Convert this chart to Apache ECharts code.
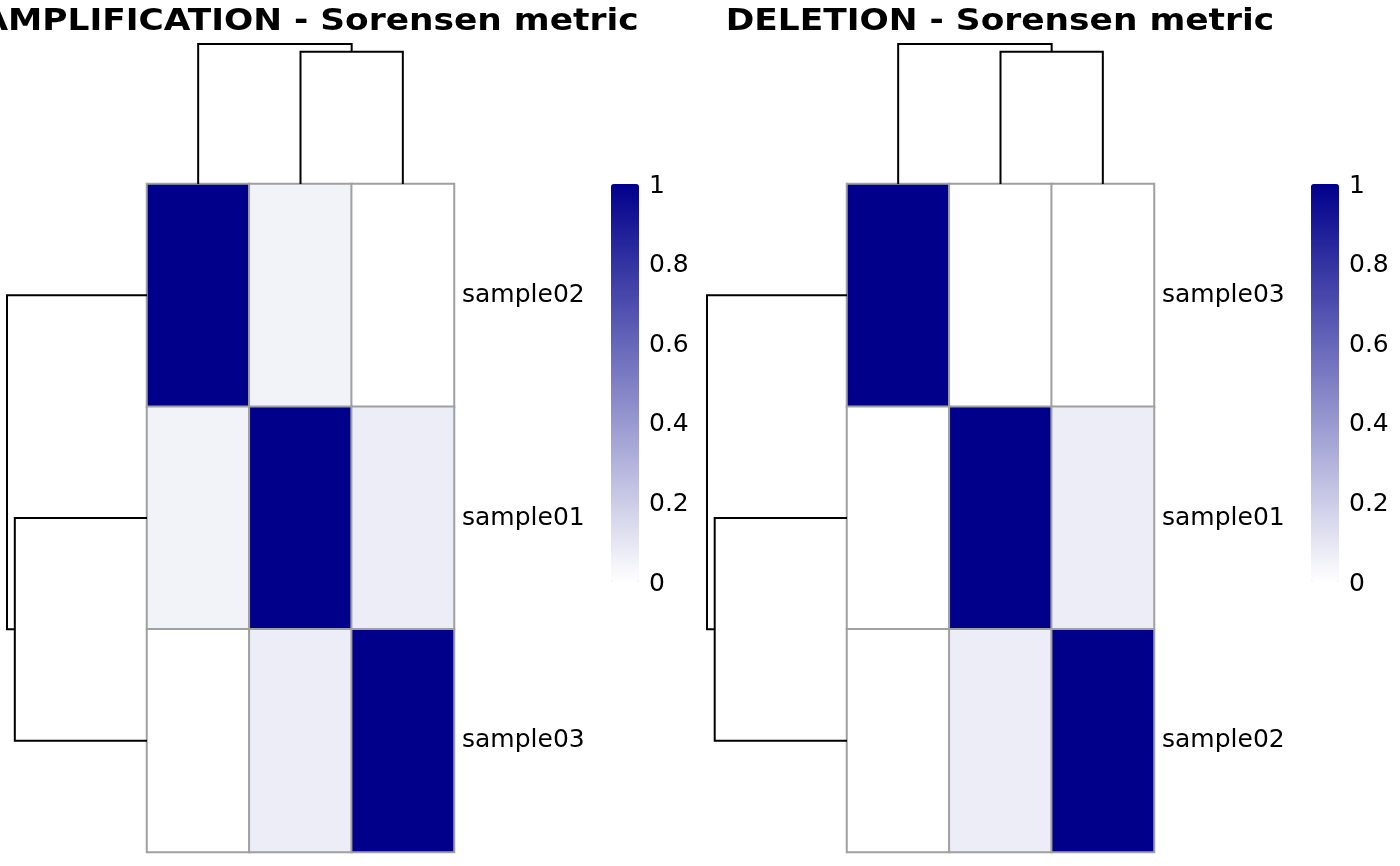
<!DOCTYPE html>
<html><head><meta charset="utf-8">
<script src="https://cdn.jsdelivr.net/npm/echarts@6/dist/echarts.min.js"></script>
<style>html,body{margin:0;padding:0;background:#fff}#c{width:1400px;height:866px}</style>
</head><body><div id="c"></div>
<script>
// ---- data ----
const ampTitle = 'AMPLIFICATION - Sorensen metric';
const delTitle = 'DELETION - Sorensen metric';
const ampSamples = ['sample02', 'sample01', 'sample03'];
const ampMatrix = [
  [1.00, 0.05, 0.00],
  [0.05, 1.00, 0.07],
  [0.00, 0.07, 1.00]
];
// hclust-style merges (negative = leaf, 1-based; positive = earlier merge)
const ampMerge = [[-2, -3], [-1, 1]];
const ampHeights = [0.93, 0.985];

const delSamples = ['sample03', 'sample01', 'sample02'];
const delMatrix = [
  [1.00, 0.00, 0.00],
  [0.00, 1.00, 0.07],
  [0.00, 0.07, 1.00]
];
const delMerge = [[-2, -3], [-1, 1]];
const delHeights = [0.945, 1.00];

const legendTicks = [0, 0.2, 0.4, 0.6, 0.8, 1];

// ---- helpers ----
function dendroSegments(merge, heights, vertical) {
  const nodes = [];
  const get = (r) => r < 0 ? { pos: -r - 1 + 0.5, h: 0 } : nodes[r - 1];
  const segs = [];
  merge.forEach((m, k) => {
    const a = get(m[0]), b = get(m[1]);
    const h = heights[k];
    const pts = [[a.pos, a.h], [a.pos, h], [b.pos, h], [b.pos, b.h]];
    segs.push({ coords: vertical ? pts : pts.map(p => [p[1], p[0]]) });
    nodes.push({ pos: (a.pos + b.pos) / 2, h: h });
  });
  return segs;
}
function heatData(m) {
  const out = [];
  m.forEach((row, r) => row.forEach((v, c) => out.push([c, r, v])));
  return out;
}

const FONT = 'DejaVu Sans';
const panels = [
  { title: ampTitle, titleX: 310, samples: ampSamples, matrix: ampMatrix, merge: ampMerge, heights: ampHeights, hmLeft: 147, legLeft: 611 },
  { title: delTitle, titleX: 1000, samples: delSamples, matrix: delMatrix, merge: delMerge, heights: delHeights, hmLeft: 847, legLeft: 1311 }
];
const HM_TOP = 184, HM_W = 307, HM_H = 668, DEN = 140;

const grid = [], xAxis = [], yAxis = [], series = [], visualMap = [], graphic = [];
const hidden = { show: false };
panels.forEach((p) => {
  const maxH = Math.max.apply(null, p.heights);
  // heatmap grid
  let gi = grid.length;
  grid.push({ left: p.hmLeft, top: HM_TOP, width: HM_W, height: HM_H });
  xAxis.push({ gridIndex: gi, type: 'category', data: p.samples, axisLabel: hidden, axisLine: hidden, axisTick: hidden, splitLine: hidden });
  yAxis.push({ gridIndex: gi, type: 'category', data: p.samples, inverse: true, position: 'right',
    axisLine: hidden, axisTick: hidden, splitLine: hidden,
    axisLabel: { fontFamily: FONT, fontSize: 25, color: '#000', margin: 8, padding: [6, 0, 0, 0] } });
  const hmIndex = series.length;
  series.push({ type: 'heatmap', xAxisIndex: gi, yAxisIndex: gi, data: heatData(p.matrix),
    itemStyle: { borderColor: '#A0A0A0', borderWidth: 2 }, emphasis: { disabled: true }, silent: true });
  visualMap.push({ type: 'continuous', seriesIndex: hmIndex, min: 0, max: 1, calculable: false, hoverLink: false,
    inRange: { color: ['#FFFFFF', '#00008B'] }, itemWidth: 28, itemHeight: 398, borderRadius: 0,
    left: p.legLeft, top: HM_TOP, padding: 0, text: ['', ''], textGap: 0 });

  // top dendrogram
  gi = grid.length;
  grid.push({ left: p.hmLeft, top: HM_TOP - DEN, width: HM_W, height: DEN });
  xAxis.push({ gridIndex: gi, type: 'value', min: 0, max: p.samples.length, show: false });
  yAxis.push({ gridIndex: gi, type: 'value', min: 0, max: maxH, show: false });
  series.push({ type: 'lines', coordinateSystem: 'cartesian2d', xAxisIndex: gi, yAxisIndex: gi, polyline: true, silent: true,
    lineStyle: { color: '#000', width: 2, opacity: 1 }, data: dendroSegments(p.merge, p.heights, true) });

  // left dendrogram
  gi = grid.length;
  grid.push({ left: p.hmLeft - DEN, top: HM_TOP, width: DEN, height: HM_H });
  xAxis.push({ gridIndex: gi, type: 'value', min: 0, max: maxH, inverse: true, show: false });
  yAxis.push({ gridIndex: gi, type: 'value', min: 0, max: p.samples.length, inverse: true, show: false });
  series.push({ type: 'lines', coordinateSystem: 'cartesian2d', xAxisIndex: gi, yAxisIndex: gi, polyline: true, silent: true,
    lineStyle: { color: '#000', width: 2, opacity: 1 }, data: dendroSegments(p.merge, p.heights, false) });

  // legend tick axis
  gi = grid.length;
  grid.push({ left: p.legLeft, top: HM_TOP + 2, width: 28, height: 398 });
  xAxis.push({ gridIndex: gi, type: 'value', show: false });
  yAxis.push({ gridIndex: gi, type: 'value', min: legendTicks[0], max: legendTicks[legendTicks.length - 1],
    interval: legendTicks[1] - legendTicks[0], position: 'right',
    axisLine: hidden, axisTick: hidden, splitLine: hidden,
    axisLabel: { fontFamily: FONT, fontSize: 25, color: '#000', margin: 10, padding: [6, 0, 0, 0],
      formatter: (v) => String(+v.toFixed(1)) } });
  series.push({ type: 'scatter', xAxisIndex: gi, yAxisIndex: gi, data: [], silent: true });

  graphic.push({ type: 'text', x: p.titleX, y: 6, scaleX: 1.11, silent: true,
    style: { text: p.title, font: 'bold 31px "DejaVu Sans"', fill: '#000', textAlign: 'center', textVerticalAlign: 'top' } });
});

const chart = echarts.init(document.getElementById('c'), null, { renderer: 'canvas' });
chart.setOption({
  backgroundColor: '#fff',
  animation: false,
  grid, xAxis, yAxis, series, visualMap, graphic
});
</script>
</body></html>
